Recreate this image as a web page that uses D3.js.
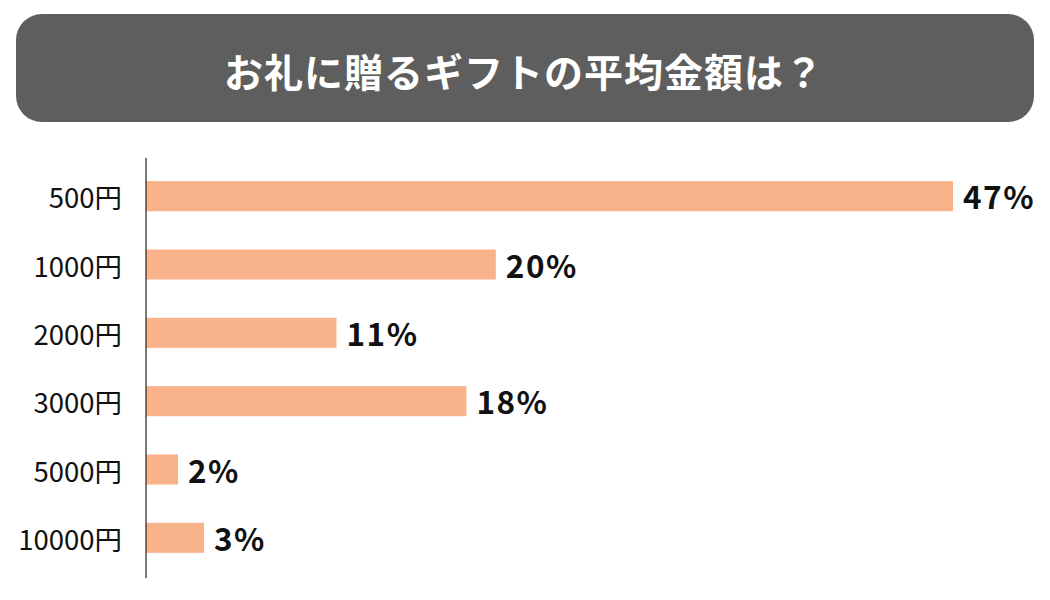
<!DOCTYPE html>
<html><head><meta charset="utf-8">
<script src="https://cdn.jsdelivr.net/npm/d3@7"></script>
<style>html,body{margin:0;padding:0;background:#fff;}</style>
</head><body>
<svg id="chart" width="1050" height="600"></svg>
<script>
const title = "お礼に贈るギフトの平均金額は？";
const categories = ["500円", "1000円", "2000円", "3000円", "5000円", "10000円"];
const values = [46.6, 20.2, 11.0, 18.5, 1.85, 3.35];
const valueLabels = ["47%", "20%", "11%", "18%", "2%", "3%"];

const svg = d3.select("#chart");
const font = "'Noto Sans CJK JP', 'Noto Sans', sans-serif";

// title banner
svg.append("rect").attr("x", 16).attr("y", 14).attr("width", 1018).attr("height", 108)
  .attr("rx", 26).attr("ry", 26).attr("fill", "#5d5e5d");
svg.append("text").attr("x", 524).attr("y", 70).attr("text-anchor", "middle")
  .attr("dominant-baseline", "central")
  .attr("font-family", font).attr("font-weight", 700).attr("font-size", 39)
  .attr("letter-spacing", 1)
  .attr("fill", "#fff").text(title);

const x0 = 146;
const x = d3.scaleLinear().domain([0, 46.6]).range([x0, 953]);
const y = d3.scaleBand().domain(categories).range([162, 572]).paddingInner(0.56).paddingOuter(0.28);

svg.selectAll("rect.bar").data(categories).join("rect").attr("class", "bar")
  .attr("x", x0).attr("y", d => y(d))
  .attr("width", (d, i) => x(values[i]) - x0)
  .attr("height", y.bandwidth())
  .attr("fill", "#f9b38a");

svg.append("line").attr("x1", x0).attr("x2", x0).attr("y1", 158).attr("y2", 578)
  .attr("stroke", "#222").attr("stroke-width", 1.2);

svg.selectAll("text.cat").data(categories).join("text").attr("class", "cat")
  .attr("x", 122).attr("y", d => y(d) + y.bandwidth() / 2)
  .attr("text-anchor", "end").attr("dominant-baseline", "central")
  .attr("font-family", font).attr("font-size", 27.5).attr("fill", "#111")
  .text(d => d);

svg.selectAll("text.val").data(categories).join("text").attr("class", "val")
  .attr("x", (d, i) => x(values[i]) + 10).attr("y", d => y(d) + y.bandwidth() / 2 - 1)
  .attr("dominant-baseline", "central")
  .attr("font-family", font).attr("font-weight", 700).attr("font-size", 31.5)
  .attr("letter-spacing", 1.5).attr("fill", "#111")
  .text((d, i) => valueLabels[i]);
</script>
</body></html>
